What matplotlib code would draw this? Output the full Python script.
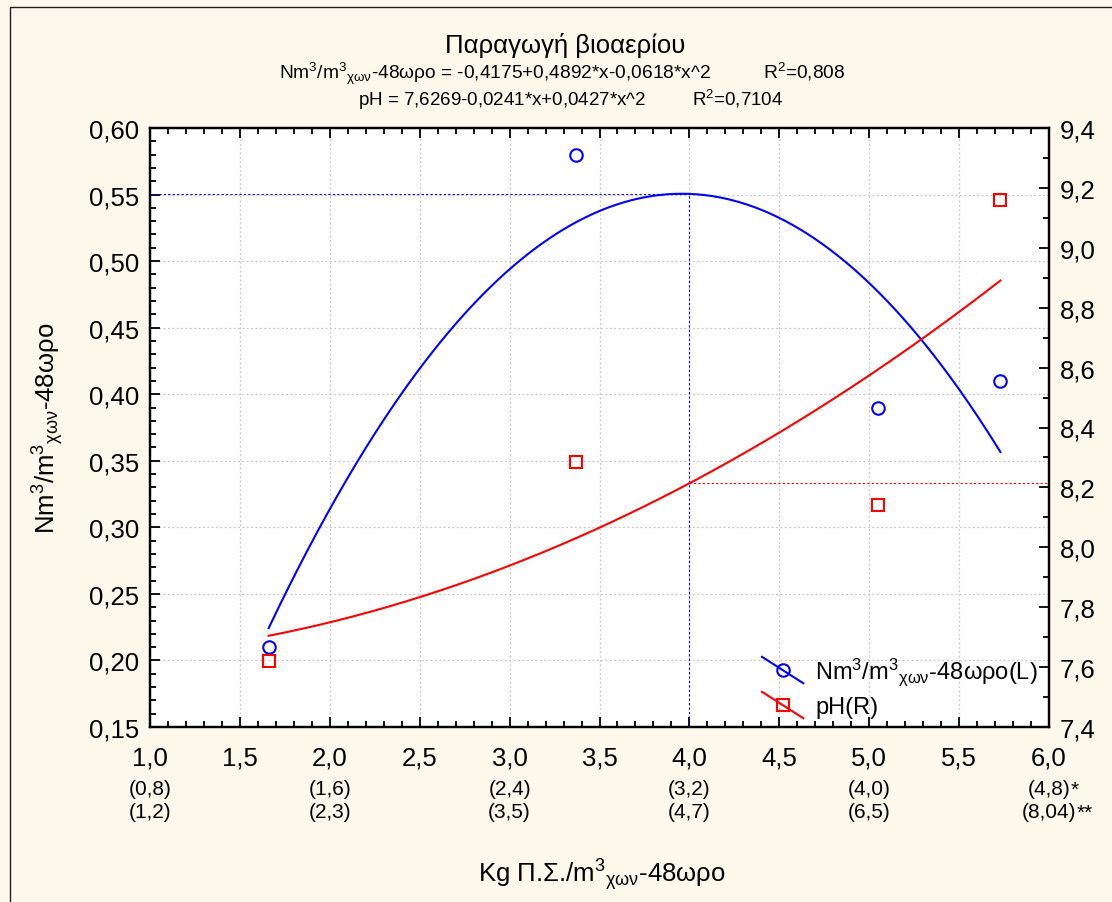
import numpy as np
import matplotlib
matplotlib.use('Agg')
import matplotlib.pyplot as plt
from matplotlib import transforms
from matplotlib.lines import Line2D
from matplotlib.legend_handler import HandlerLine2D
from matplotlib.ticker import MultipleLocator, FuncFormatter
from matplotlib.patches import Rectangle

plt.rcParams['font.family'] = ['Liberation Sans', 'DejaVu Sans']
plt.rcParams['mathtext.fontset'] = 'custom'
plt.rcParams['mathtext.rm'] = 'Liberation Sans'
plt.rcParams['mathtext.it'] = 'Liberation Sans'
plt.rcParams['mathtext.bf'] = 'Liberation Sans:bold'

load_x = [1.66, 3.37, 5.05, 5.73]
biogas = [0.21, 0.58, 0.39, 0.41]
ph = [7.62, 8.285, 8.14, 9.16]

# quadratic fits as printed in the header (c0, c1, c2)
biogas_fit = [-0.4175, 0.4892, -0.0618]
ph_fit = [7.6269, -0.0241, 0.0427]
biogas_r2 = '0,808'
ph_r2 = '0,7104'
marker_x = 4.0

# second/third row under the x ticks
sub_x = [1.0, 2.0, 3.0, 4.0, 5.0, 6.0]
sub_row1 = ['(0,8)', '(1,6)', '(2,4)', '(3,2)', '(4,0)', '(4,8)']
sub_row2 = ['(1,2)', '(2,3)', '(3,5)', '(4,7)', '(6,5)', '(8,04)']
sub_star1 = ['', '', '', '', '', '*']
sub_star2 = ['', '', '', '', '', '**']

unit = r'Nm$^3$/m$^3$$_{\mathrm{χων}}$-48ωρο'
BLUE = '#0000ff'
RED = '#ff0000'


def comma(v, n):
    return f'{v:.{n}f}'.replace('.', ',')


def eq_text(c):
    s = comma(c[0], 4)
    s += ('+' if c[1] >= 0 else '-') + comma(abs(c[1]), 4) + '*x'
    s += ('+' if c[2] >= 0 else '-') + comma(abs(c[2]), 4) + '*x^2'
    return s


def poly(c, x):
    return c[0] + c[1] * x + c[2] * x ** 2


class DiagonalHandler(HandlerLine2D):
    # statistica-style legend key: slanted line with the marker in the middle
    def create_artists(self, legend, orig_handle, xdescent, ydescent,
                       width, height, fontsize, trans):
        x0 = -xdescent
        xc = x0 + width / 2
        yc = -ydescent + height / 2
        ln = Line2D([x0, x0 + width], [yc + 9.5, yc - 9.5],
                    color=orig_handle.get_color(), lw=orig_handle.get_linewidth())
        mk = Line2D([xc], [yc], marker=orig_handle.get_marker(), linestyle='none',
                    mfc='none', mec=orig_handle.get_color(),
                    ms=orig_handle.get_markersize(), mew=orig_handle.get_markeredgewidth())
        ln.set_transform(trans)
        mk.set_transform(trans)
        return [ln, mk]


W, H = 1112, 903
fig = plt.figure(figsize=(W / 100, H / 100), dpi=100, facecolor='#fdf8ec')
ax = fig.add_axes([150 / W, 1 - 728 / H, 899 / W, 599 / H])
ax.set_facecolor('white')
ax2 = ax.twinx()

xs = np.linspace(min(load_x), max(load_x), 300)
ax.plot(xs, poly(biogas_fit, xs), color=BLUE, lw=1.5)
ax2.plot(xs, poly(ph_fit, xs), color=RED, lw=1.5)

ax.plot(load_x, biogas, linestyle='none', marker='o', mfc='none', mec=BLUE, ms=9, mew=1.5)
ax2.plot(load_x, ph, linestyle='none', marker='s', mfc='none', mec=RED, ms=8.5, mew=1.5)

# cross-hair at the marked load
b_mark = poly(biogas_fit, marker_x)
p_mark = poly(ph_fit, marker_x)
ax.plot([1.0, marker_x], [b_mark, b_mark], color=BLUE, lw=0.8, ls=(0, (2, 2)))
ax.plot([marker_x, marker_x], [0.15, b_mark], color=BLUE, lw=0.8, ls=(0, (2, 2)))
ax2.plot([marker_x, 6.0], [p_mark, p_mark], color=RED, lw=0.8, ls=(0, (2, 2)))

ax.set_xlim(1.0, 6.0)
ax.set_ylim(0.15, 0.60)
ax2.set_ylim(7.4, 9.4)

ax.xaxis.set_major_locator(MultipleLocator(0.5))
ax.xaxis.set_minor_locator(MultipleLocator(0.1))
ax.yaxis.set_major_locator(MultipleLocator(0.05))
ax.yaxis.set_minor_locator(MultipleLocator(0.01))
ax2.yaxis.set_major_locator(MultipleLocator(0.2))
ax2.yaxis.set_minor_locator(MultipleLocator(0.1))
ax.xaxis.set_major_formatter(FuncFormatter(lambda v, p: comma(v, 1)))
ax.yaxis.set_major_formatter(FuncFormatter(lambda v, p: comma(v, 2)))
ax2.yaxis.set_major_formatter(FuncFormatter(lambda v, p: comma(v, 1)))

ax.grid(which='major', color='#c8c8c8', lw=0.9, ls=(0, (1.5, 2)))
ax.set_axisbelow(True)

for a in (ax, ax2):
    for s in a.spines.values():
        s.set_linewidth(1.6)
    a.tick_params(which='both', direction='in', width=1.3, labelsize=18.5, pad=8)
    a.tick_params(which='major', length=7)
    a.tick_params(which='minor', length=4)
ax.tick_params(which='both', top=True, right=False)
ax.tick_params(axis='x', pad=13)

# extra rows under the x ticks
tr = transforms.blended_transform_factory(ax.transData, fig.transFigure)
row_y = [1 - 790 / H, 1 - 813 / H]
star_jobs = []
for x, r1, r2, s1, s2 in zip(sub_x, sub_row1, sub_row2, sub_star1, sub_star2):
    t1 = ax.text(x, row_y[0], r1, transform=tr, ha='center', va='center', fontsize=15)
    t2 = ax.text(x, row_y[1], r2, transform=tr, ha='center', va='center', fontsize=15)
    if s1:
        star_jobs.append((t1, s1, row_y[0]))
    if s2:
        star_jobs.append((t2, s2, row_y[1]))

fig.text(565 / W, 1 - 46 / H, 'Παραγωγή βιοαερίου', ha='center', va='center', fontsize=18.5)
fig.text(562 / W, 1 - 74 / H, unit + ' = ' + eq_text(biogas_fit) + ' ' * 10 + 'R$^2$=' + biogas_r2,
         ha='center', va='center', fontsize=13.8)
fig.text(571 / W, 1 - 100 / H, 'pH = ' + eq_text(ph_fit) + ' ' * 9 + 'R$^2$=' + ph_r2,
         ha='center', va='center', fontsize=13.5)

fig.text(48 / W, 1 - 428 / H, unit, rotation=90, ha='center', va='center', fontsize=18.5)
fig.text(602 / W, 1 - 875 / H, 'Kg Π.Σ./m$^3$$_{\\mathrm{χων}}$-48ωρο',
         ha='center', va='center', fontsize=18.5)

handles = [Line2D([], [], color=BLUE, marker='o', ms=9, mew=1.5, lw=1.5),
           Line2D([], [], color=RED, marker='s', ms=8.5, mew=1.5, lw=1.5)]
labels = [unit + '(L)', 'pH(R)']
ax2.legend(handles, labels, loc='center left', bbox_to_anchor=(762 / W, 1 - 688 / H),
           bbox_transform=fig.transFigure, frameon=False, fontsize=17,
           borderpad=0, borderaxespad=0, handlelength=1.75, handletextpad=0.5,
           labelspacing=0.38, handler_map={Line2D: DiagonalHandler()})

fig.patches.append(Rectangle((10 / W, -0.05), 1.0, 1 - 8 / H + 0.05, transform=fig.transFigure,
                             fill=False, ec='#202020', lw=1.0))

fig.canvas.draw()
rend = fig.canvas.get_renderer()
for t, star, y in star_jobs:
    bb = t.get_window_extent(rend)
    fig.text(bb.x1 / W, y, star, ha='left', va='center', fontsize=15)

fig.savefig('out.png', dpi=100, facecolor=fig.get_facecolor())
